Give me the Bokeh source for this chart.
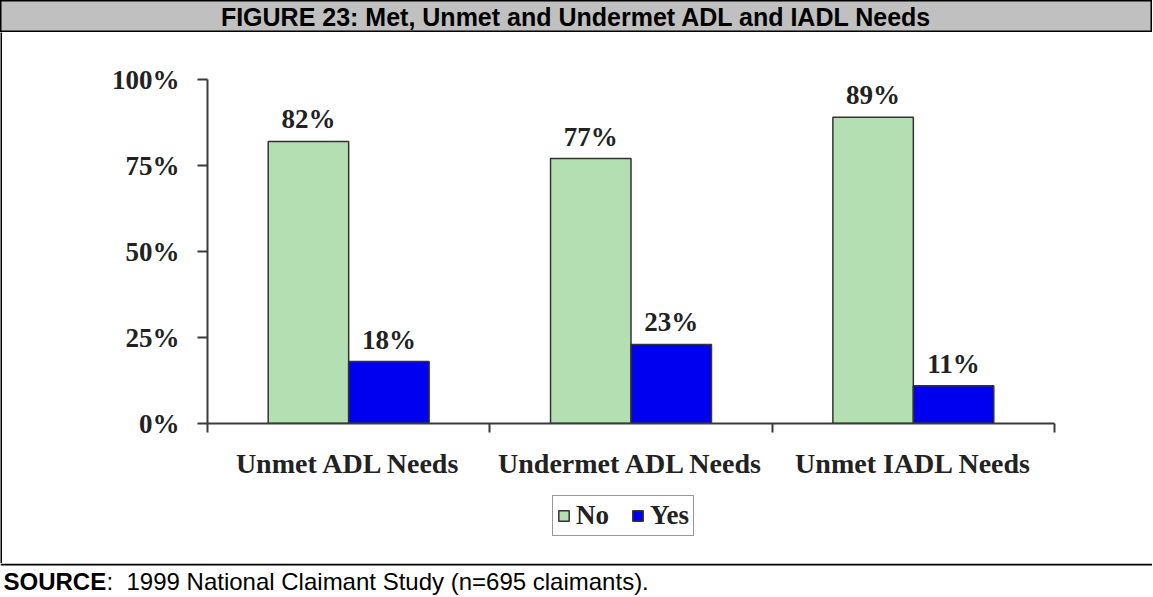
import numpy as np
from bokeh.plotting import figure
from bokeh.layouts import column, row
from bokeh.models import (ColumnDataSource, Range1d, FixedTicker, LabelSet, Label,
                          Legend, LegendItem, BoxAnnotation)
from bokeh.transform import dodge
from bokeh.embed import file_html
from bokeh.resources import INLINE
from bokeh.core.properties import value

# ---------------- data ----------------
title_text = "FIGURE 23: Met, Unmet and Undermet ADL and IADL Needs"
categories = ["Unmet ADL Needs", "Undermet ADL Needs", "Unmet IADL Needs"]
series_names = ["No", "Yes"]
no_values = [82, 77, 89]
yes_values = [18, 23, 11]
y_ticks = [0, 25, 50, 75, 100]
y_tick_labels = ["0%", "25%", "50%", "75%", "100%"]
source_bold = "SOURCE"
source_rest = ":\u00a0 1999 National Claimant Study (n=695 claimants)."

# ---------------- layout / style ----------------
W = 1152
TITLE_H = 32
MAIN_H = 453
LEG_H = 78
SRC_H = 596 - TITLE_H - MAIN_H - LEG_H
BAR_W = 0.285
GREEN = "#b3dfb3"
BLUE = "#0000f0"
EDGE = "#333333"
AXIS = "#3a3a3a"
TXT = "#222222"
SERIF = "Liberation Serif"
SANS = "Liberation Sans"


def blank(width, height, fill, xr, yr, **kw):
    f = figure(width=width, height=height, output_backend="svg", toolbar_location=None,
               x_axis_type=None, y_axis_type=None, min_border=0,
               min_border_left=0, min_border_right=0, min_border_top=0,
               min_border_bottom=0, background_fill_color=fill,
               border_fill_color=fill, x_range=xr, y_range=yr, **kw)
    f.grid.visible = False
    return f


# ---- title bar ----
tfig = blank(W, TITLE_H, "#c0c0c0", Range1d(0, 1), Range1d(0, 1),
             outline_line_color="black", outline_line_width=2)
tfig.add_layout(Label(x=0.5, y=0.5, text=title_text, text_align="center",
                      text_baseline="middle", text_font=SANS, text_font_style="bold",
                      text_font_size="25px", text_color="black"))

# ---- left border ----
lbar = blank(2, MAIN_H + LEG_H, "black", Range1d(0, 1), Range1d(0, 1),
             outline_line_color=None)

# ---- main chart ----
n = len(categories)
src = ColumnDataSource(dict(
    x=np.arange(n) + 0.5,
    no=no_values,
    yes=yes_values,
    no_lbl=[f"{v}%" for v in no_values],
    yes_lbl=[f"{v}%" for v in yes_values],
))

MW = W - 2
p = figure(width=MW, height=MAIN_H, output_backend="svg", toolbar_location=None,
           x_range=Range1d(0, n), y_range=Range1d(0, 100),
           min_border_left=205, min_border_right=98, min_border_top=47,
           min_border_bottom=62, outline_line_color=None,
           background_fill_color="white", border_fill_color="white")
p.grid.visible = False

xa = p.xaxis[0]
xa.ticker = FixedTicker(ticks=list(np.arange(n) + 0.5), minor_ticks=list(range(n + 1)))
xa.major_label_overrides = {float(t): c for t, c in zip(np.arange(n) + 0.5, categories)}
xa.major_label_text_font = SERIF
xa.major_label_text_font_style = "bold"
xa.major_label_text_font_size = "28px"
xa.major_label_text_color = TXT
xa.major_label_standoff = 15
xa.major_tick_out = 0
xa.major_tick_in = 0
xa.major_tick_line_color = None
xa.minor_tick_out = 9
xa.minor_tick_in = 0
xa.minor_tick_line_width = 2
xa.minor_tick_line_color = AXIS
xa.axis_line_width = 2
xa.axis_line_color = AXIS

ya = p.yaxis[0]
ya.ticker = FixedTicker(ticks=y_ticks)
ya.major_label_overrides = {t: l for t, l in zip(y_ticks, y_tick_labels)}
ya.major_label_text_font = SERIF
ya.major_label_text_font_style = "bold"
ya.major_label_text_font_size = "27px"
ya.major_label_text_color = TXT
ya.major_label_standoff = 18
ya.major_tick_out = 10
ya.major_tick_in = 0
ya.minor_tick_out = 0
ya.minor_tick_in = 0
ya.axis_line_width = 2
ya.axis_line_color = AXIS
ya.major_tick_line_width = 2
ya.major_tick_line_color = AXIS

bar_no = dict(fill_color=GREEN, line_color=EDGE, line_width=1.5)
bar_yes = dict(fill_color=BLUE, line_color=EDGE, line_width=1.5)
p.vbar(x=dodge("x", -BAR_W / 2, range=p.x_range), top="no", width=BAR_W,
       source=src, **bar_no)
p.vbar(x=dodge("x", BAR_W / 2, range=p.x_range), top="yes", width=BAR_W,
       source=src, **bar_yes)

lbl_kw = dict(text_align="center", text_baseline="alphabetic",
              text_font=value(SERIF), text_font_style="bold",
              text_font_size="27px", text_color=TXT)
p.add_layout(LabelSet(x=dodge("x", -BAR_W / 2, range=p.x_range), y="no",
                      text="no_lbl", y_offset=13, source=src, **lbl_kw))
p.add_layout(LabelSet(x=dodge("x", BAR_W / 2, range=p.x_range), y="yes",
                      text="yes_lbl", y_offset=13, source=src, **lbl_kw))

# ---- legend strip (its frame is aligned with the chart frame) ----
lfig = blank(MW, LEG_H, "white", Range1d(0, 1), Range1d(0, 1),
             outline_line_color=None)
k_no = lfig.vbar(x="x", top="no", width=0.1, source=src, visible=False, **bar_no)
k_yes = lfig.vbar(x="x", top="yes", width=0.1, source=src, visible=False, **bar_yes)
legend = Legend(items=[LegendItem(label=series_names[0], renderers=[k_no], index=0),
                       LegendItem(label=series_names[1], renderers=[k_yes], index=0)],
                orientation="horizontal", location=(345, 27),
                border_line_color=EDGE, border_line_width=1.5,
                label_text_font=SERIF, label_text_font_style="bold",
                label_text_font_size="27px", label_text_color=TXT,
                glyph_width=13, glyph_height=13, padding=4, spacing=22,
                label_standoff=6, margin=0, background_fill_color="white",
                background_fill_alpha=1)
lfig.add_layout(legend, "center")

# ---- bottom rule + source line ----
sfig = blank(W, SRC_H, "white", Range1d(0, W), Range1d(0, SRC_H),
             outline_line_color=None)
sfig.add_layout(BoxAnnotation(left=0, right=W, top=SRC_H, bottom=SRC_H - 2,
                              fill_color="black", fill_alpha=1, line_color=None))
sfig.add_layout(Label(x=3, y=SRC_H - 18, text=source_bold, text_align="left",
                      text_baseline="middle", text_font=SANS,
                      text_font_style="bold", text_font_size="24px",
                      text_color="black"))
sfig.add_layout(Label(x=106, y=SRC_H - 18, text=source_rest, text_align="left",
                      text_baseline="middle", text_font=SANS,
                      text_font_size="24px", text_color="black"))

layout = column(tfig, row(lbar, column(p, lfig, spacing=0), spacing=0), sfig,
                spacing=0)

open("out.html", "w").write(file_html(layout, INLINE))
